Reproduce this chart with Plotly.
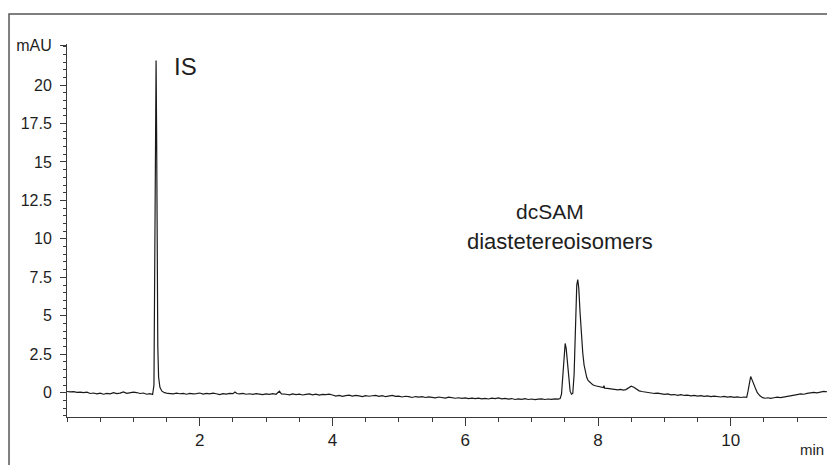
import plotly.graph_objects as go

# Chromatogram trace (time in min, absorbance in mAU)
time_min = [
    0.00, 0.05, 0.10, 0.15, 0.20, 0.25, 0.30, 0.35, 0.40, 0.45, 0.50, 0.55, 0.60, 0.65, 0.70,
    0.75, 0.80, 0.85, 0.90, 0.95, 1.00, 1.05, 1.10, 1.15, 1.20, 1.25, 1.29,
    1.31, 1.325, 1.335, 1.342, 1.350, 1.358, 1.368, 1.38, 1.40, 1.43, 1.47, 1.52,
    1.60, 1.65, 1.70, 1.75, 1.80, 1.85, 1.90, 1.95, 2.00, 2.05, 2.10, 2.15, 2.20, 2.25, 2.30,
    2.35, 2.40, 2.45, 2.50, 2.53, 2.56, 2.60, 2.65, 2.70, 2.75, 2.80, 2.85, 2.90, 2.95, 3.00,
    3.05, 3.10, 3.15, 3.20, 3.23, 3.30, 3.35, 3.40, 3.45, 3.50, 3.55, 3.60, 3.65, 3.70, 3.75,
    3.80, 3.85, 3.90, 3.95, 4.00, 4.05, 4.10, 4.15, 4.20, 4.25, 4.30, 4.35, 4.40, 4.45, 4.50,
    4.55, 4.60, 4.65, 4.70, 4.75, 4.80, 4.85, 4.90, 4.95, 5.00, 5.05, 5.10, 5.15, 5.20, 5.25,
    5.30, 5.35, 5.40, 5.45, 5.50, 5.55, 5.60, 5.65, 5.70, 5.75, 5.80, 5.85, 5.90, 5.95, 6.00,
    6.05, 6.10, 6.15, 6.20, 6.25, 6.30, 6.35, 6.40, 6.45, 6.50, 6.55, 6.60, 6.65, 6.70, 6.75,
    6.80, 6.85, 6.90, 6.95, 7.00, 7.05, 7.10, 7.15, 7.20, 7.25, 7.30, 7.35, 7.40, 7.43,
    7.45, 7.47, 7.49, 7.505, 7.52, 7.54, 7.56, 7.58, 7.60, 7.62,
    7.64, 7.66, 7.68, 7.695, 7.71, 7.73, 7.75, 7.77, 7.79, 7.81, 7.83, 7.85, 7.88, 7.92, 7.96,
    8.00, 8.04, 8.08, 8.09, 8.10, 8.14, 8.18, 8.22, 8.26, 8.30, 8.34, 8.38, 8.42, 8.46, 8.50,
    8.54, 8.58, 8.62, 8.66, 8.70, 8.75, 8.80, 8.85, 8.90, 8.95, 9.00, 9.05, 9.10, 9.15, 9.20,
    9.25, 9.30, 9.35, 9.40, 9.45, 9.50, 9.55, 9.60, 9.65, 9.70, 9.75, 9.80, 9.85, 9.90, 9.95,
    10.00, 10.05, 10.10, 10.15, 10.20, 10.24,
    10.26, 10.28, 10.30, 10.32, 10.34, 10.37, 10.40, 10.44, 10.48, 10.52, 10.56, 10.60, 10.65,
    10.70, 10.75, 10.80, 10.85, 10.90, 10.95, 11.00, 11.05, 11.10, 11.15, 11.20, 11.25, 11.30,
    11.35, 11.40, 11.45,
]
absorbance_mau = [
    0.08, 0.05, 0.07, 0.02, 0.04, 0.00, 0.03, -0.05, -0.02, -0.08, -0.03, -0.10, -0.04, -0.07, 0.00,
    -0.06, -0.03, 0.05, -0.04, -0.02, 0.04, 0.01, -0.05, -0.02, -0.10, -0.06, -0.12,
    0.50, 8.00, 18.0, 21.6, 17.0, 9.00, 3.00, 1.00, 0.35, 0.10, 0.00, -0.05,
    -0.08, -0.03, -0.07, -0.05, -0.10, -0.04, -0.08, -0.06, -0.02, -0.09, -0.05, -0.08, -0.03, -0.07, -0.12,
    -0.06, -0.09, -0.04, -0.06, 0.05, -0.05, -0.08, -0.05, -0.10, -0.07, -0.11, -0.06, -0.09, -0.13, -0.08,
    -0.11, -0.06, -0.10, 0.10, -0.08, -0.10, -0.14, -0.08, -0.12, -0.09, -0.15, -0.11, -0.08, -0.14, -0.10,
    -0.16, -0.11, -0.13, -0.09, -0.15, -0.22, -0.18, -0.24, -0.19, -0.16, -0.22, -0.17, -0.21, -0.25, -0.19,
    -0.23, -0.20, -0.18, -0.24, -0.19, -0.26, -0.21, -0.17, -0.24, -0.22, -0.28, -0.23, -0.26, -0.31, -0.25,
    -0.29, -0.26, -0.31, -0.27, -0.30, -0.33, -0.28, -0.31, -0.35, -0.29, -0.32, -0.36, -0.33, -0.37, -0.34,
    -0.38, -0.35, -0.39, -0.36, -0.40, -0.37, -0.41, -0.36, -0.39, -0.34, -0.40, -0.37, -0.42, -0.38, -0.44,
    -0.40, -0.43, -0.39, -0.44, -0.41, -0.45, -0.42, -0.40, -0.44, -0.41, -0.43, -0.40, -0.42, -0.38,
    -0.10, 1.00, 2.50, 3.20, 2.90, 1.80, 0.70, 0.10, -0.10, -0.05,
    1.20, 4.50, 7.00, 7.35, 6.80, 5.20, 3.80, 2.60, 1.80, 1.30, 1.00, 0.80, 0.65, 0.52, 0.45,
    0.40, 0.36, 0.33, 0.45, 0.30, 0.28, 0.25, 0.22, 0.20, 0.18, 0.22, 0.17, 0.20, 0.30, 0.42,
    0.35, 0.22, 0.12, 0.08, 0.05, 0.02, 0.00, -0.05, -0.03, -0.09, -0.11, -0.08, -0.14, -0.12, -0.17,
    -0.13, -0.18, -0.16, -0.20, -0.17, -0.22, -0.19, -0.24, -0.21, -0.26, -0.22, -0.25, -0.28, -0.24, -0.29,
    -0.26, -0.30, -0.27, -0.31, -0.28, -0.30,
    0.10, 0.70, 1.05, 0.85, 0.60, 0.30, 0.00, -0.20, -0.32, -0.36, -0.33, -0.37, -0.33,
    -0.29, -0.32, -0.27, -0.23, -0.20, -0.16, -0.12, -0.08, -0.10, -0.04, -0.02, 0.02, -0.01,
    0.05, 0.08, 0.06,
]

y_tick_vals = [0, 2.5, 5, 7.5, 10, 12.5, 15, 17.5, 20, 22.6]
y_tick_text = ["0", "2.5", "5", "7.5", "10", "12.5", "15", "17.5", "20", "mAU"]
x_tick_vals = [2, 4, 6, 8, 10]
x_tick_text = ["2", "4", "6", "8", "10"]

FONT = "Liberation Sans, Arial, sans-serif"
AXIS_COL = "#3a3a3a"
TXT = "#1e1e1e"

fig = go.Figure()
fig.add_trace(go.Scatter(
    x=time_min, y=absorbance_mau, mode="lines",
    line=dict(color="#1a1a1a", width=1.2),
    showlegend=False, hoverinfo="skip",
))

fig.update_layout(
    width=827, height=465,
    margin=dict(l=67, r=0, t=44, b=48),
    paper_bgcolor="white", plot_bgcolor="white",
    font=dict(family=FONT, color=TXT),
    xaxis=dict(
        range=[0, 11.45], showgrid=False, zeroline=False,
        showline=True, linecolor=AXIS_COL, linewidth=1,
        tickmode="array", tickvals=x_tick_vals, ticktext=x_tick_text,
        ticks="outside", ticklen=8, tickwidth=1, tickcolor=AXIS_COL,
        tickfont=dict(size=17, color=TXT, family=FONT),
        minor=dict(tickmode="linear", tick0=0, dtick=0.5, ticks="outside",
                   ticklen=4, tickwidth=1, tickcolor=AXIS_COL, showgrid=False),
    ),
    yaxis=dict(
        range=[-1.58, 22.67], showgrid=False, zeroline=False,
        showline=True, linecolor=AXIS_COL, linewidth=1,
        tickmode="array", tickvals=y_tick_vals, ticktext=y_tick_text,
        ticks="outside", ticklen=6, tickwidth=1, tickcolor=AXIS_COL,
        ticklabelstandoff=5,
        tickfont=dict(size=16, color=TXT, family=FONT),
        minor=dict(tickmode="linear", tick0=0, dtick=0.5, ticks="outside",
                   ticklen=3, tickwidth=1, tickcolor=AXIS_COL, showgrid=False),
    ),
)

# outer frame (top and left edges visible; right/bottom run off the picture)
fig.add_shape(type="rect", xref="paper", yref="paper",
              x0=-0.0763, x1=1.02, y0=-0.16, y1=1.0804,
              line=dict(color="#555555", width=1.5), fillcolor="rgba(0,0,0,0)", layer="below")

fig.add_annotation(x=1.58, y=21.2, xref="x", yref="y", text="IS", showarrow=False,
                   xanchor="left", yanchor="middle", font=dict(size=24, family=FONT, color=TXT))
fig.add_annotation(x=7.27, y=11.75, xref="x", yref="y", text="dcSAM", showarrow=False,
                   xanchor="center", yanchor="middle", font=dict(size=21, family=FONT, color=TXT))
fig.add_annotation(x=7.43, y=9.85, xref="x", yref="y", text="diastetereoisomers", showarrow=False,
                   xanchor="center", yanchor="middle", font=dict(size=22, family=FONT, color=TXT))
fig.add_annotation(x=0.999, y=-0.06, xref="paper", yref="paper", text="min", showarrow=False,
                   xanchor="right", yanchor="top", font=dict(size=15, family=FONT, color=TXT))

fig.write_html("out.html")
